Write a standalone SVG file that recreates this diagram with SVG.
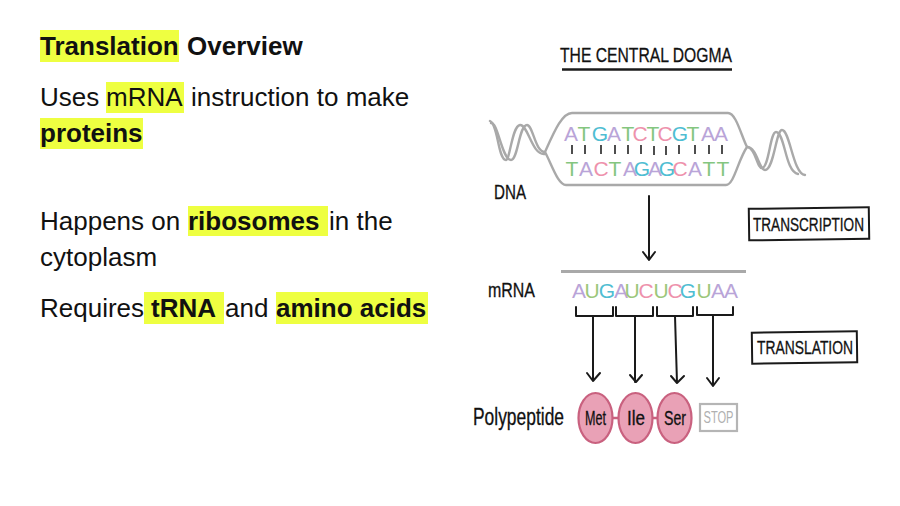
<svg xmlns="http://www.w3.org/2000/svg" width="900" height="506" viewBox="0 0 900 506">
<style>
.body{font-family:"Liberation Sans",Arial,sans-serif;font-size:26px;fill:#111}
.b{font-weight:700}
.hl{fill:#eeff41}
.hand{font-family:"Liberation Sans Narrow","Liberation Sans",Arial,sans-serif;fill:#111;stroke:#111;stroke-width:.3;font-size:20px}
.base{font-family:"Liberation Sans Narrow","Liberation Sans",Arial,sans-serif;font-size:21px;text-anchor:middle}
.A{fill:#b9a4d8}.T{fill:#84c67f}.G{fill:#4fbdd2}.C{fill:#ee92ac}.U{fill:#9cc77a}
.rib{fill:none;stroke:#a9a9a9;stroke-width:2.4;stroke-linecap:round;stroke-linejoin:round}
.ink{fill:none;stroke:#1a1a1a;stroke-width:2;stroke-linecap:round;stroke-linejoin:round}
.bead{fill:#e9a1b6;stroke:#c9617f;stroke-width:2.2}
</style>
<rect width="900" height="506" fill="#fff"/>

<g id="overview-text">
<rect class="hl" x="40" y="30" width="139" height="32"/>
<rect class="hl" x="106" y="82" width="78" height="31"/>
<rect class="hl" x="40" y="118" width="103" height="31"/>
<rect class="hl" x="188" y="206" width="140" height="30"/>
<rect class="hl" x="144" y="292" width="80" height="32"/>
<rect class="hl" x="276" y="292" width="152" height="32"/>
<text class="body b" x="40" y="55">Translation</text>
<text class="body b" x="187" y="55">Overview</text>
<text class="body" x="40" y="106">Uses</text>
<text class="body" x="106" y="106">mRNA</text>
<text class="body" x="191" y="106">instruction to make</text>
<text class="body b" x="40" y="142">proteins</text>
<text class="body" x="40" y="230">Happens on</text>
<text class="body b" x="188" y="230">ribosomes</text>
<text class="body" x="329" y="230">in the</text>
<text class="body" x="40" y="266">cytoplasm</text>
<text class="body" x="40" y="317">Requires</text>
<text class="body b" x="151" y="317">tRNA</text>
<text class="body" x="225" y="317">and</text>
<text class="body b" x="276" y="317">amino acids</text>
</g>

<g id="title">
<text class="hand" x="560" y="62" textLength="172" lengthAdjust="spacingAndGlyphs" style="font-size:21px">THE CENTRAL DOGMA</text>
<path d="M562 69.500H732" fill="none" stroke="#1a1a1a" stroke-width="2.400"/>
</g>

<g id="dna">
<path class="rib" d="M545 152C554 132 562 113 572 113H728C736 113 741 135 747 147C738 160 734 185 726 185H566C558 185 552 165 545 152Z"/>
<path class="rib" d="M545 152C535 152 533 125 527 125C519 125 518 160 511 160C502 160 498 122 491 123"/>
<path class="rib" d="M545 154C532 156 528 124 520 125C512 126 510 160 506 160C498 160 498 124 490 121"/>
<path class="rib" d="M747 147C757 147 759 170 765 170C774 170 776 130 782 130C790 130 793 174 805 175"/>
<path class="rib" d="M748 147C756 150 757 168 762 168C769 168 770 132 776 132C785 132 785 172 798 174"/>
<g id="dna-upper-strand">
<text class="base A" x="571" y="141">A</text><text class="base T" x="584" y="141">T</text><text class="base G" x="600" y="141">G</text><text class="base A" x="614" y="141">A</text><text class="base T" x="628" y="141">T</text><text class="base C" x="640" y="141">C</text><text class="base T" x="653" y="141">T</text><text class="base C" x="665" y="141">C</text><text class="base G" x="680" y="141">G</text><text class="base T" x="693" y="141">T</text><text class="base A" x="708" y="141">A</text><text class="base A" x="721" y="141">A</text>
</g>
<path d="M572 145v9M585 145v9M601 145v9M615 145v9M628 145v9M641 145v9M654 146v9M666 146v9M679 145v9M695 145v9M709 145v9M722 145v9" fill="none" stroke="#222" stroke-width="1.600"/>
<g id="dna-lower-strand">
<text class="base T" x="572" y="176">T</text><text class="base A" x="586" y="176">A</text><text class="base C" x="601" y="176">C</text><text class="base T" x="615" y="176">T</text><text class="base A" x="630" y="176">A</text><text class="base G" x="642" y="176">G</text><text class="base A" x="655" y="176">A</text><text class="base G" x="667" y="176">G</text><text class="base C" x="680" y="176">C</text><text class="base A" x="695" y="176">A</text><text class="base T" x="709" y="176">T</text><text class="base T" x="723" y="176">T</text>
</g>
<text class="hand" x="494" y="199" textLength="32" lengthAdjust="spacingAndGlyphs">DNA</text>
</g>

<g id="transcription-label">
<rect x="749" y="208" width="120" height="31.500" fill="#fff" stroke="#1a1a1a" stroke-width="2" transform="rotate(-0.8 809 224)"/>
<text class="hand" x="753" y="231" textLength="111" lengthAdjust="spacingAndGlyphs" style="font-size:18px">TRANSCRIPTION</text>
</g>

<g id="mrna">
<path d="M561 271.500H746" fill="none" stroke="#a9a9a9" stroke-width="3"/>
<text class="base A" x="579" y="298">A</text><text class="base U" x="592" y="298">U</text><text class="base G" x="607" y="298">G</text><text class="base A" x="621" y="298">A</text><text class="base U" x="632" y="298">U</text><text class="base C" x="646" y="298">C</text><text class="base U" x="661" y="298">U</text><text class="base C" x="675" y="298">C</text><text class="base G" x="688" y="298">G</text><text class="base U" x="704" y="298">U</text><text class="base A" x="718" y="298">A</text><text class="base A" x="731" y="298">A</text>
<text class="hand" x="488" y="297" textLength="47" lengthAdjust="spacingAndGlyphs">mRNA</text>
</g>

<g id="connectors">
<path class="ink" d="M649 196V260M643 252 649 260 655 252"/>
<path class="ink" d="M576 307V316H613V307M616 307V316H653V307M657 307V316H693V307M697 307V315H733V307"/>
<path class="ink" d="M593 316V381M587 373 593 381 600 373"/>
<path class="ink" d="M635 316V382M630 375 636 382 642 375"/>
<path class="ink" d="M675 316 677 383M671 376 677 383 684 376"/>
<path class="ink" d="M713 316V386M707 378 713 386 719 378"/>
</g>

<g id="translation-label">
<rect x="752" y="332" width="105" height="31" fill="#fff" stroke="#1a1a1a" stroke-width="2" transform="rotate(-0.8 804 347)"/>
<text class="hand" x="757" y="354" textLength="96" lengthAdjust="spacingAndGlyphs" style="font-size:18px">TRANSLATION</text>
</g>

<g id="polypeptide">
<text class="hand" x="473" y="425" textLength="91" lengthAdjust="spacingAndGlyphs" style="font-size:23px">Polypeptide</text>
<path d="M612 418h7M652 418h6" fill="none" stroke="#c9617f" stroke-width="2.500"/>
</g>
<g id="met"><ellipse class="bead" cx="595.500" cy="418" rx="17" ry="25"/><text class="hand" x="585" y="425" textLength="21" lengthAdjust="spacingAndGlyphs">Met</text></g>
<g id="ile"><ellipse class="bead" cx="635.500" cy="418" rx="17" ry="25"/><text class="hand" x="627" y="425" textLength="18" lengthAdjust="spacingAndGlyphs">Ile</text></g>
<g id="ser"><ellipse class="bead" cx="674.500" cy="418" rx="17" ry="25"/><text class="hand" x="664" y="425" textLength="22" lengthAdjust="spacingAndGlyphs">Ser</text></g>
<g id="stop"><rect x="700" y="404" width="37" height="27" fill="#fff" stroke="#b5b5b5" stroke-width="2.200"/><text class="hand" x="703.500" y="423" textLength="30" lengthAdjust="spacingAndGlyphs" style="fill:#b0b0b0;stroke:none;font-size:16px">STOP</text></g>
</svg>
